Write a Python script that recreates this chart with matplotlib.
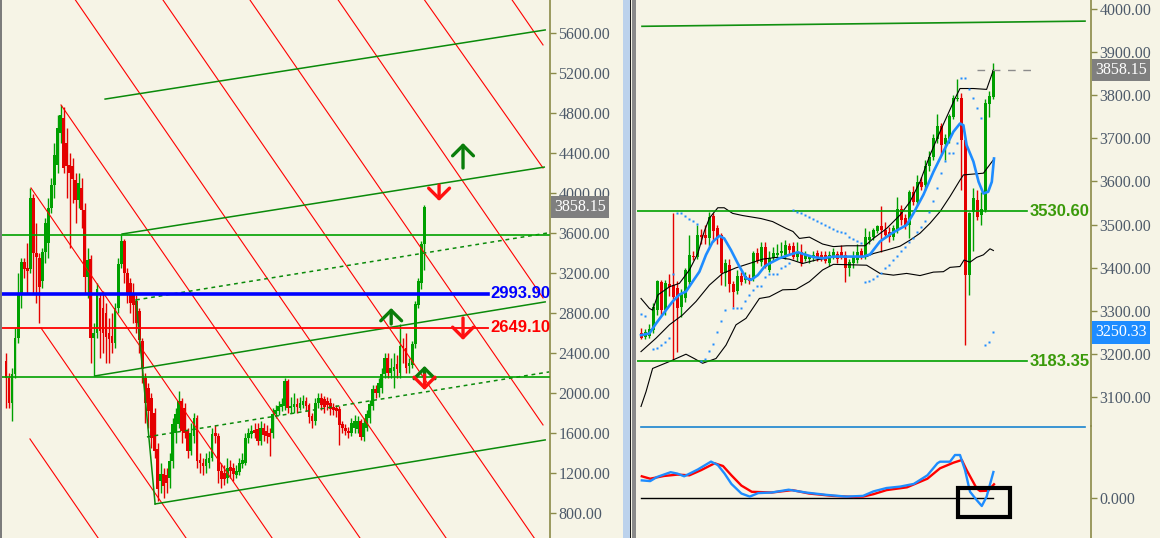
import numpy as np
import matplotlib
matplotlib.use('Agg')
import matplotlib.pyplot as plt
import matplotlib.transforms as mtransforms
from matplotlib.patches import Rectangle

plt.rcParams['font.family'] = ['Liberation Serif', 'DejaVu Serif']

# ---------------- left chart: long-term candles ----------------
l_open = [2320, 2150, 1900, 2190, 2550, 3000, 3310, 3250, 3240, 3950, 3400, 3350, 3120, 3410, 3500, 3850,
          4080, 4280, 4600, 4750, 4500, 4280, 4270, 4130, 3930, 4050, 3830, 3160, 3340, 2550, 2600, 2950,
          2850, 2800, 2600, 2570, 2500, 2850, 3290, 3520, 3200, 3100, 3000, 2920, 2820, 2520, 2150, 2050,
          1950, 1800, 1440, 1120, 1190, 1180, 1150, 1320, 1600, 1690, 1920, 1850, 1620, 1420, 1570, 1750,
          1330, 1300, 1270, 1300, 1350, 1600, 1570, 1220, 1200, 1150, 1260, 1250, 1180, 1210, 1290, 1300,
          1550, 1590, 1630, 1640, 1520, 1650, 1620, 1600, 1600, 1790, 1820, 1860, 1870, 2120, 1850, 1860,
          1890, 1850, 1880, 1920, 1880, 1770, 1720, 1900, 1950, 1940, 1920, 1900, 1860, 1850, 1840, 1690,
          1650, 1620, 1600, 1650, 1640, 1720, 1560, 1650, 1750, 1870, 2040, 2000, 2050, 2190, 2350, 2200,
          2220, 2290, 2200, 2470, 2450, 2270, 2280, 2490, 2880, 3100, 3490]
l_close = [2150, 1900, 2190, 2550, 3000, 3310, 3240, 3220, 3950, 3400, 3360, 3060, 3410, 3700, 3850, 4080,
           4380, 4650, 4780, 4250, 4270, 4200, 4140, 3930, 4100, 3830, 3160, 3330, 2550, 2600, 3040, 2620,
           2600, 2560, 2540, 2500, 2850, 3290, 3520, 3200, 3000, 2900, 2880, 2700, 2530, 2240, 1900, 1820,
           1550, 1420, 1040, 1190, 1070, 1100, 1320, 1690, 1790, 1920, 1620, 1600, 1420, 1600, 1750, 1320,
           1300, 1270, 1340, 1350, 1590, 1570, 1220, 1140, 1140, 1250, 1220, 1190, 1220, 1300, 1330, 1550,
           1600, 1620, 1600, 1520, 1650, 1580, 1570, 1560, 1790, 1830, 1870, 1890, 2120, 1850, 1870, 1890,
           1860, 1900, 1920, 1870, 1760, 1720, 1900, 1950, 1880, 1860, 1880, 1840, 1830, 1820, 1680, 1650,
           1620, 1600, 1700, 1720, 1720, 1560, 1700, 1790, 1890, 2040, 2000, 2100, 2190, 2350, 2200, 2250,
           2260, 2240, 2470, 2450, 2250, 2300, 2490, 2890, 3120, 3490, 3858.15]
l_high = [2400, 2200, 2250, 2650, 3200, 3350, 3350, 3500, 4050, 3990, 3700, 3400, 3450, 3750, 3950, 4150,
          4500, 4780, 4880, 4860, 4650, 4400, 4350, 4200, 4200, 4150, 3900, 3450, 3380, 2700, 3100, 3000,
          3020, 2900, 2750, 2800, 2900, 3350, 3580, 3540, 3250, 3150, 3100, 2980, 2850, 2550, 2200, 2100,
          2000, 1850, 1500, 1300, 1250, 1250, 1400, 1750, 1850, 2020, 1950, 1900, 1650, 1700, 1800, 1780,
          1400, 1350, 1400, 1420, 1650, 1680, 1600, 1300, 1280, 1350, 1330, 1300, 1280, 1350, 1400, 1600,
          1650, 1680, 1700, 1700, 1720, 1700, 1680, 1650, 1850, 1880, 1920, 1950, 2150, 2140, 1960, 2000,
          1950, 1960, 1980, 1960, 1900, 1800, 1950, 2000, 2000, 1970, 1960, 1950, 1900, 1880, 1870, 1720,
          1690, 1660, 1750, 1780, 1770, 1740, 1750, 1830, 1930, 2080, 2080, 2150, 2250, 2400, 2400, 2350,
          2400, 2380, 2690, 2550, 2600, 2350, 2520, 2920, 3150, 3520, 3880]
l_low = [1850, 1850, 1720, 2150, 2500, 2850, 3150, 3000, 3200, 3000, 2900, 2700, 3050, 3300, 3350, 3800,
         3950, 4200, 4500, 4200, 3950, 3450, 3900, 3700, 3850, 3650, 3000, 2950, 2300, 2170, 2550, 2350,
         2400, 2300, 2300, 2400, 2450, 2800, 3250, 3100, 2900, 2800, 2700, 2600, 2400, 2100, 1700, 1650,
         1450, 1350, 920, 1000, 950, 1000, 1050, 1250, 1500, 1650, 1500, 1550, 1350, 1380, 1500, 1250,
         1200, 1180, 1200, 1250, 1320, 1500, 1100, 1050, 1080, 1100, 1150, 1120, 1150, 1180, 1250, 1280,
         1500, 1550, 1550, 1480, 1480, 1520, 1500, 1370, 1550, 1750, 1780, 1820, 1830, 1800, 1800, 1800,
         1800, 1830, 1850, 1820, 1700, 1650, 1680, 1850, 1830, 1800, 1830, 1780, 1780, 1760, 1480, 1600,
         1580, 1550, 1570, 1600, 1600, 1530, 1520, 1620, 1700, 1830, 1950, 1960, 2000, 2150, 2150, 2150,
         2050, 2150, 2150, 2300, 2200, 2200, 2250, 2450, 2850, 3040, 3225]

# drawn objects on the left chart: (bar0, price0, bar1, price1)
red_fan = [(7.9, 1538, 30.4, 546), (11.55, 2649, 59.4, 546), (8.25, 4051, 87.8, 546),
           (18.15, 4882, 116.8, 546), (22.9, 5933, 145.2, 546), (51.8, 5933, 174.3, 546),
           (80.5, 5933, 177.2, 1678), (109.6, 5933, 177.2, 2950), (138.1, 5933, 177.2, 4251),
           (167.0, 5933, 177.2, 5483)]
green_channel = [(32.7, 4941, 177.9, 5633), (38.3, 3590, 177.6, 4260), (29.4, 2169, 177.9, 2910),
                 (49.2, 887, 177.9, 1528), (42.9, 2930, 49.2, 887)]
green_dashed = [(42.9, 2930, 178.9, 3601), (46.5, 1558, 179.2, 2209)]
green_levels = [3580, 2161]
blue_level = 2993.90
red_level = 2649.10
# arrows: (bar, tip price, tail price, colour)
arrows = [(150.8, 4501, 4251, '#0a7d0a'), (142.9, 3921, 4081, '#ff1010'),
          (127.1, 2849, 2689, '#0a7d0a'), (150.8, 2529, 2749, '#ff1010'),
          (138.1, 2269, 2149, '#0a7d0a'), (138.1, 2028, 2178, '#ff1010')]

# ---------------- right chart: daily candles ----------------
r_open = [3250, 3240, 3242, 3256, 3302, 3366, 3302, 3362, 3360, 3354, 3310, 3331, 3368, 3428, 3426, 3477,
          3476, 3468, 3521, 3491, 3476, 3387, 3406, 3362, 3346, 3380, 3372, 3377, 3376, 3434, 3414, 3447,
          3395, 3422, 3430, 3434, 3430, 3451, 3451, 3426, 3437, 3420, 3420, 3422, 3434, 3430, 3430, 3411,
          3426, 3433, 3436, 3430, 3399, 3410, 3418, 3439, 3426, 3464, 3472, 3485, 3497, 3487, 3484, 3472,
          3488, 3536, 3516, 3499, 3575, 3553, 3599, 3592, 3636, 3657, 3698, 3729, 3686, 3699, 3750, 3790,
          3792, 3696, 3383, 3530, 3557, 3522, 3534, 3780, 3796]
r_close = [3238, 3252, 3258, 3310, 3370, 3302, 3364, 3356, 3333, 3308, 3340, 3395, 3430, 3425, 3476, 3472,
           3468, 3518, 3485, 3472, 3387, 3410, 3362, 3345, 3382, 3368, 3380, 3370, 3434, 3416, 3447, 3403,
           3422, 3434, 3434, 3439, 3452, 3441, 3426, 3437, 3410, 3429, 3424, 3430, 3422, 3422, 3415, 3430,
           3437, 3420, 3426, 3399, 3414, 3426, 3437, 3426, 3472, 3472, 3487, 3497, 3487, 3476, 3472, 3491,
           3536, 3510, 3499, 3575, 3553, 3599, 3588, 3636, 3657, 3701, 3729, 3684, 3701, 3752, 3792, 3792,
           3696, 3383, 3526, 3562, 3518, 3537, 3781, 3798, 3858.15]
r_high = [3261, 3258, 3270, 3318, 3372, 3372, 3372, 3385, 3526, 3370, 3350, 3400, 3476, 3440, 3500, 3490,
          3500, 3530, 3528, 3500, 3480, 3420, 3420, 3370, 3395, 3390, 3390, 3385, 3440, 3445, 3460, 3460,
          3440, 3448, 3455, 3460, 3465, 3458, 3460, 3460, 3455, 3440, 3430, 3440, 3442, 3440, 3440, 3440,
          3445, 3440, 3452, 3440, 3420, 3440, 3455, 3445, 3492, 3485, 3492, 3500, 3542, 3507, 3495, 3500,
          3563, 3545, 3525, 3580, 3590, 3615, 3610, 3650, 3670, 3710, 3757, 3735, 3710, 3757, 3800, 3838,
          3805, 3700, 3530, 3585, 3580, 3575, 3790, 3810, 3873]
r_low = [3236, 3236, 3238, 3250, 3290, 3290, 3290, 3335, 3186, 3206, 3287, 3320, 3360, 3418, 3420, 3455,
         3455, 3450, 3460, 3455, 3360, 3358, 3345, 3310, 3340, 3360, 3365, 3362, 3370, 3410, 3405, 3400,
         3390, 3415, 3420, 3425, 3420, 3430, 3420, 3415, 3405, 3415, 3410, 3415, 3415, 3415, 3410, 3405,
         3420, 3410, 3420, 3367, 3380, 3400, 3410, 3420, 3420, 3455, 3465, 3480, 3436, 3470, 3460, 3465,
         3480, 3500, 3490, 3470, 3545, 3545, 3580, 3580, 3625, 3650, 3690, 3660, 3650, 3690, 3745, 3785,
         3580, 3221, 3337, 3440, 3510, 3500, 3530, 3750, 3790]

# bollinger bands and moving average (bar, price)
bb_up_x = [0, 2.1, 2.9, 4.2, 7.1, 9.6, 12.1, 14.2, 15.8, 17.1, 19.2, 20.8, 22.9, 25.4, 30, 32.9, 36.3, 38,
           39.6, 42.1, 45.4, 48.1, 51.4, 56, 58.1, 61.4, 64.75, 67.25, 69.75, 72.25, 74.75, 76.8, 78.5,
           79.75, 83.1, 86.4, 88.1]
bb_up_y = [3329, 3306, 3302, 3337, 3356, 3364, 3395, 3433, 3484, 3515, 3539, 3539, 3526, 3521, 3514, 3507,
           3491, 3484, 3468, 3471, 3455, 3449, 3451, 3451, 3468, 3491, 3522, 3553, 3599, 3661, 3715, 3757,
           3792, 3815, 3815, 3813, 3858]
bb_mid_x = [0, 3.75, 7.1, 10.4, 13.75, 17.1, 20.4, 23.75, 27.1, 30.4, 33.75, 37.1, 40.4, 43.75, 48.75,
            56.4, 58.1, 61.4, 64.75, 67.25, 69.75, 72.25, 74.75, 77.25, 79.75, 80.6, 85.6, 88.1]
bb_mid_y = [3206, 3237, 3268, 3291, 3322, 3360, 3387, 3400, 3410, 3420, 3424, 3420, 3410, 3418, 3426,
            3426, 3433, 3441, 3450, 3464, 3480, 3503, 3530, 3565, 3603, 3615, 3619, 3650]
bb_lo_x = [0, 1.25, 2.9, 7.1, 11.25, 13.3, 15.4, 18.75, 21.25, 23.75, 26.25, 29.6, 32.1, 35.4, 38.75,
           42.1, 45.4, 48.1, 56.4, 59.75, 63.1, 66.4, 69.75, 73.1, 75.6, 77.25, 79.75, 80.75, 82.25, 83.9,
           85.6, 87.25, 88.1]
bb_lo_y = [3079, 3113, 3167, 3183, 3200, 3190, 3179, 3190, 3221, 3268, 3283, 3329, 3333, 3349, 3350,
           3368, 3395, 3408, 3406, 3387, 3383, 3387, 3382, 3390, 3391, 3401, 3403, 3418, 3413, 3424, 3430,
           3444, 3440]
ma_x = [0, 2.1, 3.75, 6.25, 7.9, 9.6, 11.25, 12.9, 14.6, 16.25, 17.9, 19.6, 20.8, 22.5, 24.2, 26.25,
        27.5, 29.2, 30.9, 32.1, 34.6, 37.1, 39.2, 40.9, 43, 45.4, 48.1, 50.6, 55.6, 57.25, 59.75, 62.7,
        66.4, 68.1, 70.6, 73.1, 75.6, 78.1, 79.75, 80.6, 81.4, 83.1, 84.4, 85.6, 86.8, 87.7, 88.25]
ma_y = [3244, 3248, 3271, 3302, 3322, 3338, 3345, 3368, 3391, 3430, 3460, 3474, 3468, 3441, 3410, 3376,
        3372, 3383, 3403, 3410, 3422, 3430, 3436, 3431, 3425, 3422, 3426, 3426, 3426, 3431, 3461, 3480,
        3499, 3526, 3569, 3622, 3669, 3715, 3734, 3730, 3684, 3646, 3599, 3572, 3576, 3599, 3653]

# parabolic SAR (bar, price)
sar_x = [0, 1, 3, 4, 5, 6, 7, 8, 9, 10, 11, 12, 13, 14, 15, 16, 17, 18, 19, 20, 21, 23, 24, 25, 26, 27,
         28, 29, 30, 31, 32, 33, 34, 35, 36, 37, 38, 39, 40, 41, 42, 43, 44, 45, 46, 47, 48, 49, 50, 51,
         52, 53, 54, 55, 56, 57, 58, 59, 60, 61, 62, 63, 64, 65, 66, 67, 68, 69, 70, 71, 72, 73, 74, 75,
         76, 77, 78, 79, 80, 81, 82, 83, 84, 85, 86, 87, 88]
sar_y = [3292, 3289, 3212, 3215, 3221, 3229, 3238, 3386, 3528, 3528, 3521, 3514, 3508, 3502, 3185, 3190,
         3207, 3224, 3251, 3277, 3302, 3308, 3308, 3308, 3323, 3337, 3349, 3359, 3359, 3379, 3386, 3386,
         3386, 3400, 3404, 3410, 3534, 3530, 3526, 3522, 3518, 3513, 3508, 3503, 3499, 3494, 3490, 3486,
         3483, 3480, 3472, 3467, 3462, 3457, 3368, 3370, 3374, 3380, 3387, 3399, 3407, 3417, 3427, 3439,
         3449, 3459, 3470, 3484, 3494, 3509, 3530, 3555, 3584, 3619, 3647, 3665, 3665, 3690, 3840, 3840,
         3815, 3792, 3769, 3746, 3221, 3229, 3250.33]

top_line = (0.25, 3959, 111, 3971)
levels_right = [3530.60, 3183.35]

# oscillator panel
osc_blue_x = [0.2, 2.3, 4, 7.4, 9.1, 10.8, 14.2, 17.5, 19.2, 20.9, 22.6, 25.1, 27.2, 29.3, 32.7, 36.9,
              41.2, 46.2, 51.3, 55.5, 58.1, 61.4, 64.8, 68.2, 71.6, 74.1, 74.75, 77.25, 78.5, 79.75, 81,
              82.25, 83.9, 85.2, 86.4, 88.1]
osc_blue_y = [17.6, 16.9, 21, 25.8, 24.4, 21.7, 28.5, 36.4, 33, 24.4, 14.1, 4.5, 1.4, 4.9, 5.5, 8.3, 5.5,
              3.2, 1.4, 2.1, 6.6, 10, 11.4, 14.1, 22.7, 34.7, 36.3, 36.3, 43, 43, 28, 6.3, -2, -8, 1.3, 26]
osc_red_x = [0.2, 2.3, 5.7, 9.1, 12.1, 15, 18.4, 20.5, 22.6, 25.1, 27.7, 32.7, 37.8, 42, 48, 53.1, 55.5,
             58.1, 61.4, 66.5, 71.6, 74.75, 78.1, 80.2, 81.4, 83.9, 84.75, 86.8, 88.25]
osc_red_y = [21.7, 19.3, 22, 23.4, 22.7, 27.8, 34.7, 32, 22.7, 12.4, 6.2, 5.5, 7.9, 4.5, 2.1, 1.1, 1.4,
             3.8, 7.9, 10.7, 19.3, 29.7, 35.3, 38, 28, 9.7, 7, 7.3, 13.7]

BG = '#F6F4E6'
OLIVE = '#8a8a48'
TICKC = '#4d5a6a'
UP = '#00a000'
DN = '#e40000'


def candles(ax, o, h, l, c, width, min_h):
    o, h, l, c = map(np.asarray, (o, h, l, c))
    x = np.arange(len(o))
    col = np.where(c >= o, UP, DN)
    ax.vlines(x, l, h, colors=col, lw=1.0, zorder=2)
    bottom = np.minimum(o, c)
    height = np.maximum(np.abs(c - o), min_h)
    ax.bar(x, height, width, bottom, color=col, lw=0, zorder=2)


def price_axis(ax, ticks, fmt):
    for s in ('top', 'bottom', 'left'):
        ax.spines[s].set_visible(False)
    ax.spines['right'].set_color(OLIVE)
    ax.spines['right'].set_linewidth(1.2)
    ax.set_xticks([])
    ax.yaxis.tick_right()
    ax.set_yticks(ticks)
    ax.set_yticklabels([fmt % t for t in ticks])
    ax.tick_params(axis='y', direction='out', length=4, width=1, color=OLIVE,
                   labelcolor=TICKC, labelsize=11.5, pad=2)
    ax.set_facecolor('none')


W, H = 1160, 538
fig = plt.figure(figsize=(W / 100, H / 100), dpi=100)
fig.patch.set_facecolor(BG)

# ---------- left panel ----------
ax = fig.add_axes([0, 0, 550 / W, 1])
candles(ax, l_open, l_high, l_low, l_close, 0.92, 12)
ax.set_xlim(-1.98, 179.5)
ax.set_ylim(546, 5933)
price_axis(ax, np.arange(800, 5601, 400), '%.2f')

for x0, p0, x1, p1 in red_fan:
    ax.plot([x0, x1], [p0, p1], color='#ff0000', lw=0.8, zorder=3)
for x0, p0, x1, p1 in green_channel:
    ax.plot([x0, x1], [p0, p1], color='#0a8a0a', lw=1.1, zorder=3)
for x0, p0, x1, p1 in green_dashed:
    ax.plot([x0, x1], [p0, p1], color='#0a8a0a', lw=1.1, ls=(0, (2.5, 2.5)), zorder=3)
for lv in green_levels:
    ax.axhline(lv, xmin=2 / 550, xmax=549 / 550, color='#00a000', lw=1.2, zorder=3)
ax.axhline(red_level, xmin=2 / 550, xmax=488 / 550, color='#ff0000', lw=1.3, zorder=3)
ax.axhline(blue_level, xmin=2 / 550, xmax=488 / 550, color='#0000ff', lw=2.6, zorder=3)
ax.text(159.7, blue_level, '%.2f' % blue_level, color='#0000ff', fontsize=12, fontweight='bold',
        family='Liberation Sans', va='center', ha='left', zorder=4)
ax.text(159.7, red_level, '%.2f' % red_level, color='#ff0000', fontsize=12, fontweight='bold',
        family='Liberation Sans', va='center', ha='left', zorder=4)

for bx, tip, tail, col in arrows:
    ax.annotate('', xy=(bx, tip), xytext=(bx, tail),
                arrowprops=dict(arrowstyle='->,head_length=0.75,head_width=0.75', color=col, lw=2.4,
                                shrinkA=0, shrinkB=0, mutation_scale=10), zorder=5)

tr = mtransforms.blended_transform_factory(ax.transAxes, ax.transData)
ax.text(1 + 4 / 550, l_close[-1], '%.2f' % l_close[-1], transform=tr, color='white', fontsize=11.5,
        va='center', ha='left', clip_on=False, zorder=6,
        bbox=dict(boxstyle='square,pad=0.2', fc='#7f7f7f', ec='none'))

# ---------- right panel ----------
ax2 = fig.add_axes([637 / W, 112 / H, 454 / W, 426 / H])
candles(ax2, r_open, r_high, r_low, r_close, 0.75, 2.5)
ax2.set_xlim(-1, 112.5)
ax2.set_ylim(3033.8, 4019.9)
price_axis(ax2, np.arange(3100, 4001, 100), '%.2f')

ax2.plot(bb_up_x, bb_up_y, color='black', lw=0.8, zorder=3)
ax2.plot(bb_mid_x, bb_mid_y, color='black', lw=0.8, zorder=3)
ax2.plot(bb_lo_x, bb_lo_y, color='black', lw=0.8, zorder=3)
ax2.plot(ma_x, ma_y, color='#1e8cff', lw=1.9, zorder=4)
ax2.plot(sar_x, sar_y, ls='none', marker='s', ms=2.0, color='#1e8cff', mec='none', zorder=4)
ax2.plot([top_line[0], top_line[2]], [top_line[1], top_line[3]], color='#109010', lw=1.2, zorder=3)
ax2.plot([84, 98.3], [r_close[-1], r_close[-1]], color='#8c8c8c', lw=1, ls=(0, (5.5, 5.5)), zorder=3)
for lv in levels_right:
    ax2.axhline(lv, xmin=0, xmax=390 / 454, color='#00a000', lw=1.2, zorder=3)
    ax2.text(97.25, lv, '%.2f' % lv, color='#3a9a0a', fontsize=12, fontweight='bold',
             family='Liberation Sans', va='center', ha='left', zorder=4)

tr2 = mtransforms.blended_transform_factory(ax2.transAxes, ax2.transData)
ax2.text(1 + 4 / 454, r_close[-1], '%.2f' % r_close[-1], transform=tr2, color='white', fontsize=11.5,
         va='center', ha='left', clip_on=False, zorder=6,
         bbox=dict(boxstyle='square,pad=0.2', fc='#7f7f7f', ec='none'))
ax2.text(1 + 4 / 454, sar_y[-1], '%.2f' % sar_y[-1], transform=tr2, color='white', fontsize=11.5,
         va='center', ha='left', clip_on=False, zorder=6,
         bbox=dict(boxstyle='square,pad=0.2', fc='#1e8cff', ec='none'))

# ---------- oscillator ----------
ax3 = fig.add_axes([637 / W, 0, 454 / W, 112 / H])
ax3.set_xlim(-1, 112.5)
ax3.set_ylim(-40, 72)
price_axis(ax3, [0], '%.3f')
ax3.plot([0, 111], [71.5, 71.5], color='#1a84d0', lw=1.2, clip_on=False)
ax3.plot([0, 88], [0, 0], color='black', lw=1)
ax3.plot(osc_red_x, osc_red_y, color='#ff0000', lw=1.7)
ax3.plot(osc_blue_x, osc_blue_y, color='#1e8cff', lw=1.7)
ax3.add_patch(Rectangle((79.25, -19), 13, 29, fill=False, ec='black', lw=3, clip_on=False, zorder=5))

# window frame between the panels
fig.add_artist(Rectangle((0, 0), 2 / W, 1, transform=fig.transFigure, fc='#7c7c7c', ec='none'))
fig.add_artist(Rectangle((623 / W, 0), 7 / W, 1, transform=fig.transFigure, fc='#bcd2ec', ec='none'))
fig.add_artist(Rectangle((630 / W, 0), 1.2 / W, 1, transform=fig.transFigure, fc='#1a1a1a', ec='none'))
fig.add_artist(Rectangle((632 / W, 0), 4 / W, 1, transform=fig.transFigure, fc='#8a8a8a', ec='none'))

fig.savefig('out.png', dpi=100, facecolor=BG)
